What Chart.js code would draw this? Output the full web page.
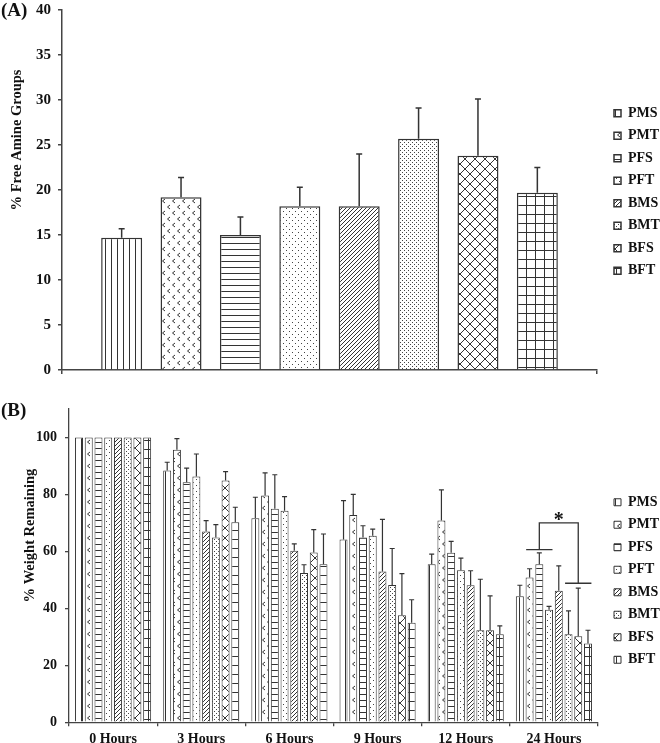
<!DOCTYPE html>
<html>
<head>
<meta charset="utf-8">
<script src="https://cdn.jsdelivr.net/npm/chart.js@4.4.0/dist/chart.umd.min.js"></script>
<style>
html, body { margin: 0; padding: 0; background: #fff; overflow: hidden; }
#amineChart { position: absolute; left: 0; top: -6px; }
#weightChart { position: absolute; left: 0; top: 373px; }
</style>
</head>
<body>
<canvas id="amineChart" width="660" height="392"></canvas>
<canvas id="weightChart" width="660" height="380"></canvas>
<script>
// series and their fill patterns
const seriesNames = ['PMS', 'PMT', 'PFS', 'PFT', 'BMS', 'BMT', 'BFS', 'BFT'];
const patternKinds = ['vlines', 'chevrons', 'hlines', 'sparseDots', 'diagonal', 'denseDots', 'crosshatch', 'grid'];

// (A) free amine groups, one value per series
const amineMeans = [14.7, 19.2, 15.0, 18.2, 18.2, 25.7, 23.8, 19.7];
const amineErrors = [1.0, 2.2, 2.0, 2.1, 5.8, 3.4, 6.3, 2.8];

// (B) weight remaining over time
const timeLabels = ['0 Hours', '3 Hours', '6 Hours', '9 Hours', '12 Hours', '24 Hours'];
const weightPMS = [100, 88.4, 71.6, 64.2, 55.5, 44.2];
const weightPMT = [100, 95.7, 79.6, 72.8, 70.8, 50.8];
const weightPFS = [100, 84.3, 75.0, 64.9, 59.5, 55.5];
const weightPFT = [100, 86.3, 74.3, 65.5, 53.4, 39.5];
const weightBMS = [100, 67.0, 60.2, 52.9, 48.1, 46.2];
const weightBMT = [100, 64.9, 52.4, 48.2, 32.3, 30.9];
const weightBFS = [100, 84.9, 59.6, 37.6, 32.3, 30.2];
const weightBFT = [100, 70.2, 55.5, 34.9, 30.9, 27.6];

const errPMS = [0, 2.9, 7.4, 13.6, 3.5, 3.9];
const errPMT = [0, 3.9, 8.0, 7.2, 10.8, 3.1];
const errPFS = [0, 4.9, 11.9, 4.1, 4.0, 4.0];
const errPFT = [0, 7.9, 4.9, 2.3, 4.2, 1.2];
const errBMS = [0, 3.8, 2.4, 18.3, 5.1, 8.7];
const errBMT = [0, 4.5, 2.9, 12.8, 17.9, 8.2];
const errBFS = [0, 3.1, 8.0, 14.6, 12.1, 16.9];
const errBFT = [0, 5.3, 10.6, 8.1, 2.9, 4.7];

const weightSeries = [weightPMS, weightPMT, weightPFS, weightPFT, weightBMS, weightBMT, weightBFS, weightBFT];
const weightErrors = [errPMS, errPMT, errPFS, errPFT, errBMS, errBMT, errBFS, errBFT];

// significance bracket at 24 Hours: left foot, top, right foot
const sigLevels = [60.6, 70, 48.8];

const ink = '#333';
const serif = '"Liberation Serif", "Times New Roman", serif';
Chart.defaults.font.family = serif;
Chart.defaults.font.weight = 'bold';
Chart.defaults.color = '#111';

function makePattern(kind, target) {
    const sizes = {
        vlines: [6, 6], chevrons: [10, 12], hlines: [6, 6], sparseDots: [6, 6],
        diagonal: [4, 4], denseDots: [4, 4], crosshatch: [10, 10], grid: [9, 9]
    };
    const c = document.createElement('canvas');
    c.width = sizes[kind][0];
    c.height = sizes[kind][1];
    const g = c.getContext('2d');
    g.fillStyle = '#fff';
    g.fillRect(0, 0, c.width, c.height);
    g.strokeStyle = ink;
    g.fillStyle = '#444';
    g.lineWidth = 1;
    g.beginPath();
    switch (kind) {
        case 'vlines': g.moveTo(3.5, 0); g.lineTo(3.5, 6); break;
        case 'hlines': g.moveTo(0, 3.5); g.lineTo(6, 3.5); break;
        case 'chevrons':
            g.moveTo(5, 1); g.lineTo(2.5, 3); g.lineTo(5, 5);
            g.moveTo(10, 7); g.lineTo(7.5, 9); g.lineTo(10, 11);
            break;
        case 'sparseDots': g.fillRect(1, 1, 1, 1); g.fillRect(4, 4, 1, 1); break;
        case 'diagonal':
            g.moveTo(0, 4); g.lineTo(4, 0);
            g.moveTo(-1, 1); g.lineTo(1, -1);
            g.moveTo(3, 5); g.lineTo(5, 3);
            break;
        case 'denseDots': g.fillRect(0, 0, 1, 1); g.fillRect(2, 2, 1, 1); break;
        case 'crosshatch': g.moveTo(0, 0); g.lineTo(10, 10); g.moveTo(10, 0); g.lineTo(0, 10); break;
        case 'grid': g.moveTo(4.5, 0); g.lineTo(4.5, 9); g.moveTo(0, 4.5); g.lineTo(9, 4.5); break;
    }
    g.stroke();
    return target.createPattern(c, 'repeat');
}

// upper error bars with caps
const errorBars = {
    id: 'errorBars',
    afterDatasetsDraw(chart, args, opts) {
        const ctx = chart.ctx;
        const y = chart.scales.y;
        ctx.save();
        ctx.strokeStyle = ink;
        ctx.lineWidth = opts.width;
        chart.data.datasets.forEach((ds, i) => {
            chart.getDatasetMeta(i).data.forEach((bar, j) => {
                const e = ds.errors[j];
                if (!e) return;
                const top = y.getPixelForValue(ds.data[j] + e);
                ctx.beginPath();
                ctx.moveTo(bar.x, bar.y);
                ctx.lineTo(bar.x, top);
                ctx.moveTo(bar.x - opts.cap, top);
                ctx.lineTo(bar.x + opts.cap, top);
                ctx.stroke();
            });
        });
        ctx.restore();
    }
};

// panel letter and rotated axis title
const panelText = {
    id: 'panelText',
    afterDraw(chart, args, o) {
        const ctx = chart.ctx;
        const area = chart.chartArea;
        ctx.save();
        ctx.fillStyle = '#111';
        ctx.font = 'bold 19px ' + serif;
        ctx.textBaseline = 'top';
        ctx.fillText(o.panel, 1, o.panelTop);
        ctx.translate(o.titleX, (area.top + area.bottom) / 2 + o.titleShift);
        ctx.rotate(-Math.PI / 2);
        ctx.font = 'bold 14.5px ' + serif;
        ctx.textAlign = 'center';
        ctx.textBaseline = 'middle';
        ctx.fillText(o.title, 0, 0);
        ctx.restore();
    }
};

// * bracket between PFS and BFS at 24 Hours
const sigBracket = {
    id: 'sigBracket',
    afterDatasetsDraw(chart) {
        const ctx = chart.ctx;
        const y = chart.scales.y;
        const last = timeLabels.length - 1;
        const left = chart.getDatasetMeta(2).data[last];
        const right = chart.getDatasetMeta(6).data[last];
        const half = left.width * 1.65;
        const yl = y.getPixelForValue(sigLevels[0]);
        const yt = y.getPixelForValue(sigLevels[1]);
        const yr = y.getPixelForValue(sigLevels[2]);
        ctx.save();
        ctx.strokeStyle = ink;
        ctx.lineWidth = 1.3;
        ctx.beginPath();
        ctx.moveTo(left.x - half, yl); ctx.lineTo(left.x + half, yl);
        ctx.moveTo(left.x, yl); ctx.lineTo(left.x, yt); ctx.lineTo(right.x, yt); ctx.lineTo(right.x, yr);
        ctx.moveTo(right.x - half, yr); ctx.lineTo(right.x + half, yr);
        ctx.stroke();
        ctx.fillStyle = '#111';
        ctx.font = 'bold 20px ' + serif;
        ctx.textAlign = 'center';
        ctx.textBaseline = 'bottom';
        ctx.fillText('*', (left.x + right.x) / 2, yt + 8);
        ctx.restore();
    }
};

function axisStyle(width) {
    return {
        grid: { drawOnChartArea: false, tickLength: 4, color: '#444', lineWidth: width },
        border: { color: '#444', width: width }
    };
}

function legendStyle() {
    return {
        position: 'right',
        maxWidth: 54.5,
        labels: { boxWidth: 7, boxHeight: 7, padding: 8.5, font: { size: 14, weight: 'bold' }, color: '#111' }
    };
}

function spacer(w) {
    return {
        type: 'linear', position: 'right', display: true,
        grid: { display: false }, border: { display: false }, ticks: { display: false },
        afterFit: s => { s.width = w; }
    };
}

// (A)
const ctxA = document.getElementById('amineChart').getContext('2d');
new Chart(ctxA, {
    type: 'bar',
    data: {
        labels: [''],
        datasets: seriesNames.map((name, i) => ({
            label: name,
            data: [amineMeans[i]],
            errors: [amineErrors[i]],
            backgroundColor: makePattern(patternKinds[i], ctxA),
            borderColor: ink,
            borderWidth: 1.5,
            categoryPercentage: 0.888,
            barPercentage: 0.69
        }))
    },
    options: {
        responsive: false,
        animation: false,
        layout: { padding: { left: 29, top: 4, right: 0, bottom: 0 } },
        scales: {
            x: Object.assign({ ticks: { display: false } }, axisStyle(1.5)),
            y: Object.assign({
                min: 0, max: 40,
                ticks: { stepSize: 5, padding: 7, font: { size: 15, weight: 'bold' }, color: '#111' }
            }, axisStyle(1.5)),
            gap: spacer(8.5)
        },
        plugins: {
            legend: legendStyle(),
            tooltip: { enabled: false },
            errorBars: { width: 1.5, cap: 3 },
            panelText: { panel: '(A)', panelTop: 8, title: '% Free Amine Groups', titleX: 17, titleShift: -50 }
        }
    },
    plugins: [errorBars, panelText]
});

// (B)
const ctxB = document.getElementById('weightChart').getContext('2d');
new Chart(ctxB, {
    type: 'bar',
    data: {
        labels: timeLabels,
        datasets: seriesNames.map((name, i) => ({
            label: name,
            data: weightSeries[i],
            errors: weightErrors[i],
            backgroundColor: makePattern(patternKinds[i], ctxB),
            borderColor: ink,
            borderWidth: 1,
            categoryPercentage: 0.883,
            barPercentage: 0.82
        }))
    },
    options: {
        responsive: false,
        animation: false,
        layout: { padding: { left: 28, top: 36, right: 0, bottom: 0 } },
        scales: {
            x: Object.assign({
                ticks: { padding: 5, font: { size: 14, weight: 'bold' }, color: '#111' }
            }, axisStyle(1.3)),
            y: Object.assign({
                min: 0, max: 110,
                ticks: { stepSize: 20, padding: 8, font: { size: 14, weight: 'bold' }, color: '#111' },
                afterBuildTicks: s => { s.ticks = s.ticks.filter(t => t.value % 20 === 0); }
            }, axisStyle(1.3)),
            gap: spacer(7.5)
        },
        plugins: {
            legend: legendStyle(),
            tooltip: { enabled: false },
            errorBars: { width: 1.2, cap: 2.5 },
            panelText: { panel: '(B)', panelTop: 29, title: '% Weight Remaining', titleX: 30, titleShift: -30 }
        }
    },
    plugins: [errorBars, sigBracket, panelText]
});
</script>
</body>
</html>
